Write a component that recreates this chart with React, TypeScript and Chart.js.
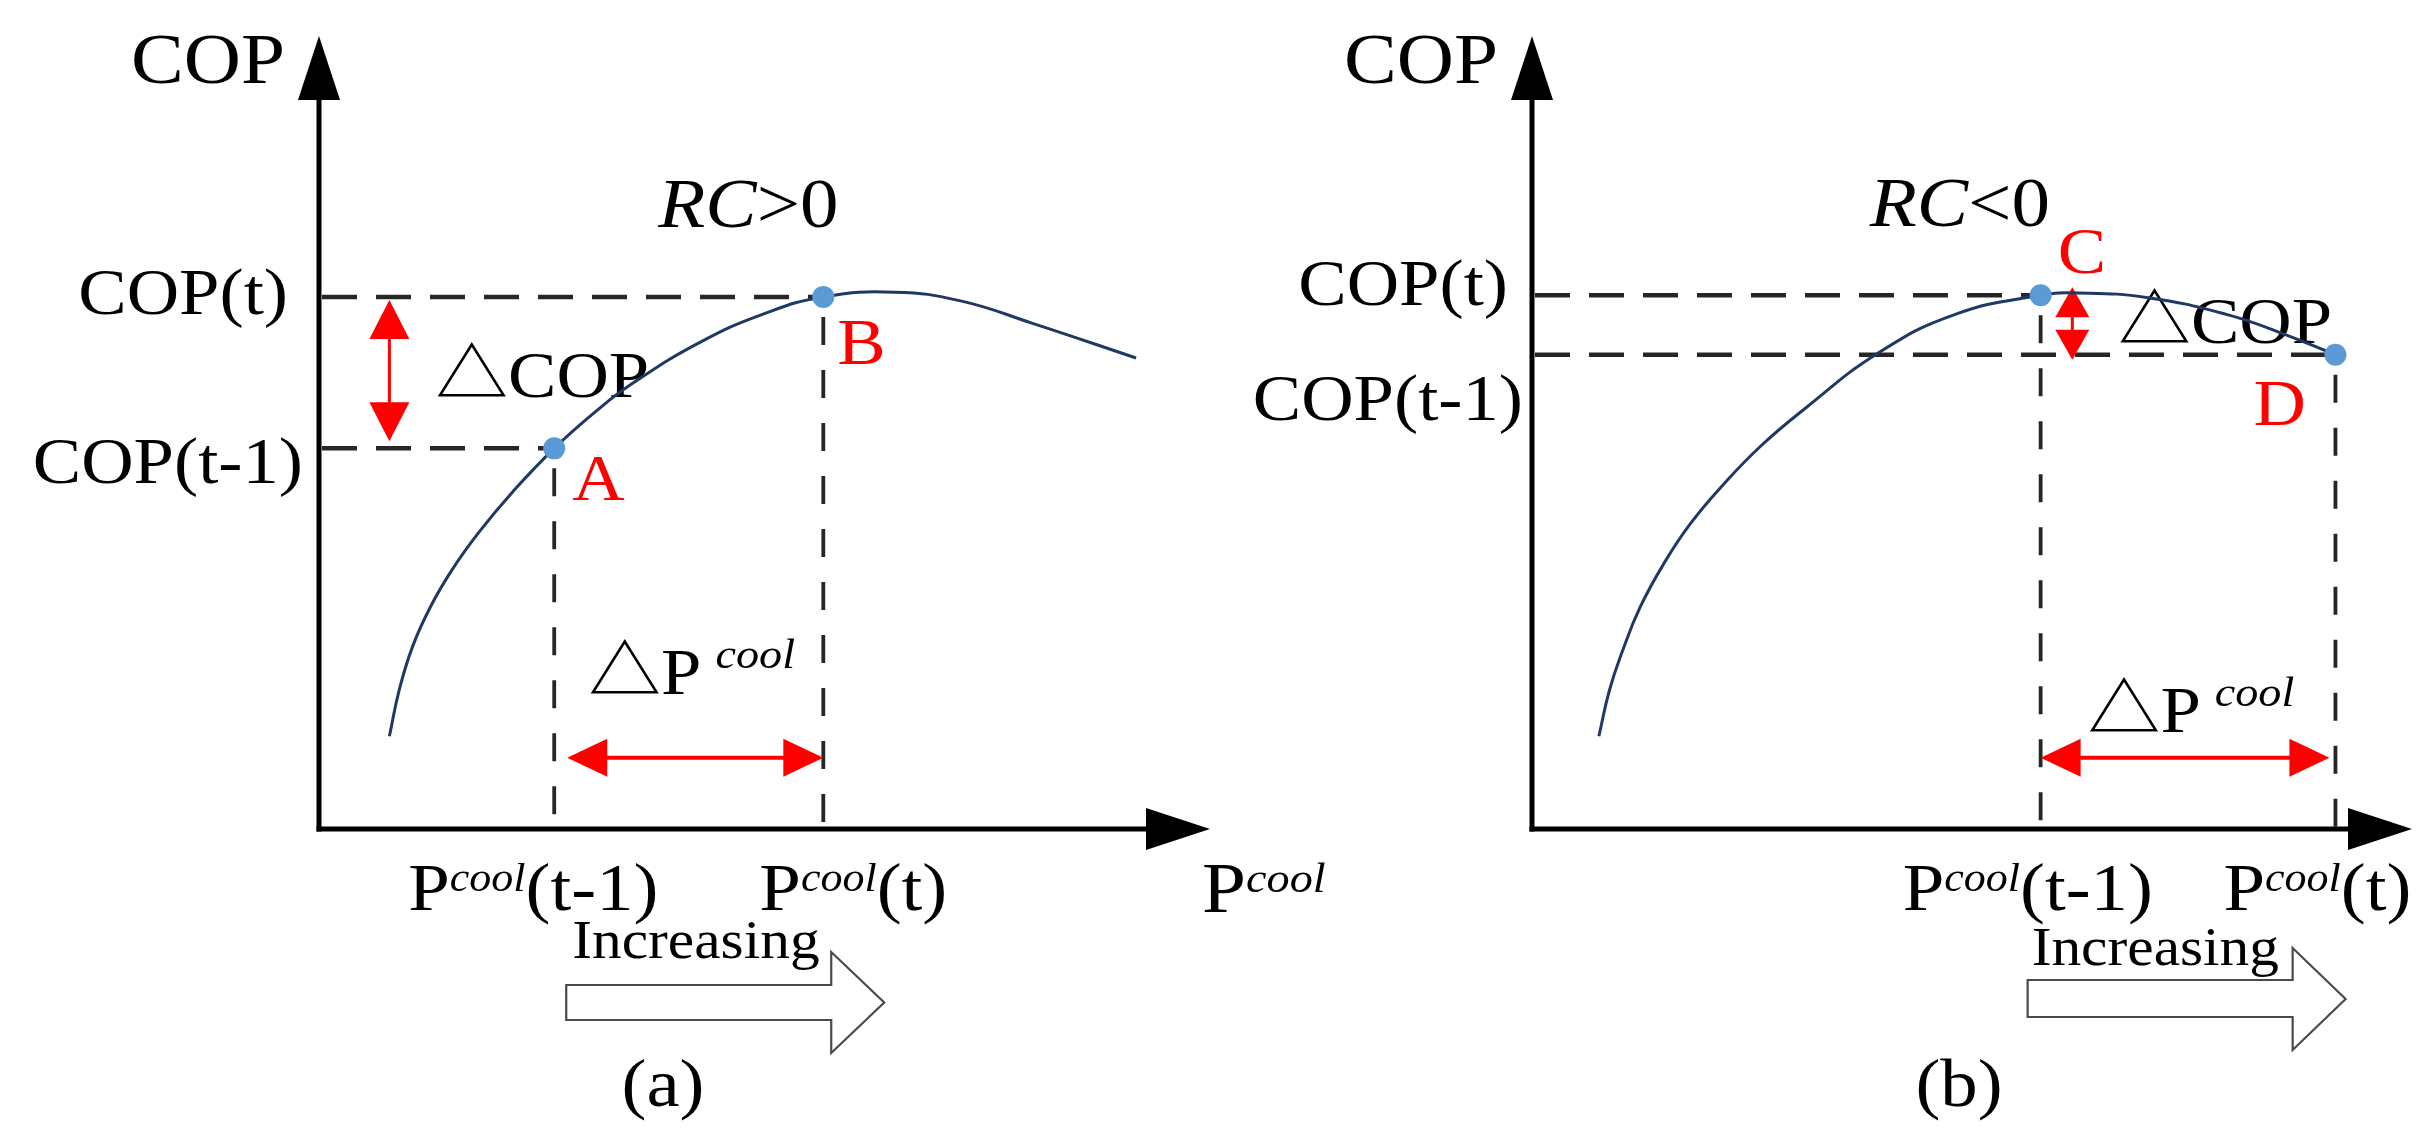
import React, { useEffect, useRef } from "react";
import { Chart, registerables } from "chart.js";

Chart.register(...registerables);

const W = 2434;
const H = 1145;
const FONT = '"Liberation Serif", "Noto Sans CJK SC", serif';
const SX = 1.1; // horizontal text stretch to mimic the wide serif face

// ---------- Panel (a) data ----------
const CURVE_A_P = [7.9, 9.0, 10.5, 12.5, 15.0, 18.0, 21.8, 26.4, 31.0, 35.2, 42.8, 50.0, 56.6, 64.6, 72.0, 80.0, 91.7];
const CURVE_A_COP = [11.7, 17.5, 23.0, 28.0, 32.8, 37.5, 42.6, 48.0, 52.6, 56.2, 61.4, 65.0, 67.1, 67.7, 66.6, 63.8, 59.4];
const POINT_NAMES_A = ["A", "B"];
const POINT_P_A = [26.4, 56.6];
const POINT_COP_A = [48.0, 67.1];
const X_TICKS_A = ["(t-1)", "(t)"];
const Y_TICKS_A = ["COP(t-1)", "COP(t)"];
const RC_A = ">0";
const DCOP_ARROW_P_A = 7.9;

// ---------- Panel (b) data ----------
const CURVE_B_P = [7.6, 8.8, 10.3, 12.3, 15.0, 18.0, 21.8, 26.0, 31.0, 39.3, 48.1, 57.8, 62.0, 70.0, 78.9, 85.0, 91.3];
const CURVE_B_COP = [11.7, 17.5, 22.5, 28.0, 33.5, 38.5, 43.5, 48.3, 53.0, 60.0, 64.9, 67.3, 67.6, 67.0, 64.9, 62.6, 59.8];
const POINT_NAMES_B = ["C", "D"];
const POINT_P_B = [57.8, 91.3];
const POINT_COP_B = [67.3, 59.8];
const X_TICKS_B = ["(t-1)", "(t)"];
const Y_TICKS_B = ["COP(t)", "COP(t-1)"];
const RC_B = "<0";
const DCOP_ARROW_P_B = 61.4;

// shared
const DP_ARROW_COP = 9.0;
const AXIS_TITLE_Y = "COP";
const AXIS_TITLE_X = "P";
const SUP = "cool";
const INCREASING = "Increasing";

type Part = { t: string; size: number; italic?: boolean; dy?: number; gap?: number };

const PANEL_A = {
  curveP: CURVE_A_P, curveCop: CURVE_A_COP, names: POINT_NAMES_A, ptP: POINT_P_A, ptCop: POINT_COP_A,
  xTicks: X_TICKS_A, yTicks: Y_TICKS_A, rc: RC_A, rcPoint: 1, tag: "(a)", xTitle: true,
  dcopArrowP: DCOP_ARROW_P_A, low: 0, high: 1,
  pad: { left: 319, right: W - 1210, top: 36, bottom: H - 829 },
  yTickRight: [-16, -31], yTickDy: [35, 17],
  xTickDx: [-146, -64], xTickBase: 910,
  nameDx: [18, 14], nameDy: [52, 67],
  rcDx: -165, rcDy: -70,
  dcopExt: [3, -7], dcopHead: 39, dcopHalf: 20, dcopLabelDy: -51,
  dpExt: [13, 0], dpLabelDy: -64,
  incDx: 18, incBase: 958,
  hArrowDx: 12, hBody: [985, 1020], hHead: [952, 1053],
  tagX: 663,
};

const PANEL_B = {
  curveP: CURVE_B_P, curveCop: CURVE_B_COP, names: POINT_NAMES_B, ptP: POINT_P_B, ptCop: POINT_COP_B,
  xTicks: X_TICKS_B, yTicks: Y_TICKS_B, rc: RC_B, rcPoint: 0, tag: "(b)", xTitle: false,
  dcopArrowP: DCOP_ARROW_P_B, low: 1, high: 0,
  pad: { left: 1532, right: W - 2412, top: 36, bottom: H - 829 },
  yTickRight: [-24, -9], yTickDy: [10, 65],
  xTickDx: [-138, -112], xTickBase: 910,
  nameDx: [17, -82], nameDy: [-22, 70],
  rcDx: -171, rcDy: -69,
  dcopExt: [-8, 5], dcopHead: 30, dcopHalf: 17, dcopLabelDy: -12,
  dpExt: [0, -6], dpLabelDy: -26,
  incDx: -9, incBase: 965,
  hArrowDx: -13, hBody: [980, 1017], hHead: [948, 1050],
  tagX: 1959,
};

type PanelCfg = typeof PANEL_A;

function fontOf(p: Part) {
  return `${p.italic ? "italic " : ""}${p.size}px ${FONT}`;
}

function drawParts(ctx: CanvasRenderingContext2D, parts: Part[], x: number, y: number, align: "left" | "right" | "center", color: string) {
  const ws = parts.map((p) => {
    ctx.font = fontOf(p);
    return ctx.measureText(p.t).width * SX;
  });
  const total = ws.reduce((a, b) => a + b, 0) + parts.reduce((a, p) => a + (p.gap || 0), 0);
  let cx = align === "left" ? x : align === "right" ? x - total : x - total / 2;
  parts.forEach((p, i) => {
    cx += p.gap || 0;
    ctx.save();
    ctx.font = fontOf(p);
    ctx.fillStyle = color;
    ctx.textAlign = "left";
    ctx.textBaseline = "alphabetic";
    ctx.translate(cx, y + (p.dy || 0));
    ctx.scale(SX, 1);
    ctx.fillText(p.t, 0, 0);
    ctx.restore();
    cx += ws[i];
  });
}

function line(ctx: CanvasRenderingContext2D, x1: number, y1: number, x2: number, y2: number) {
  ctx.beginPath();
  ctx.moveTo(x1, y1);
  ctx.lineTo(x2, y2);
  ctx.stroke();
}

function tri(ctx: CanvasRenderingContext2D, pts: number[][]) {
  ctx.beginPath();
  ctx.moveTo(pts[0][0], pts[0][1]);
  ctx.lineTo(pts[1][0], pts[1][1]);
  ctx.lineTo(pts[2][0], pts[2][1]);
  ctx.closePath();
  ctx.fill();
}

function makeDecor(cfg: PanelCfg) {
  return {
    id: "decor" + cfg.tag,
    beforeDatasetsDraw(chart: any) {
      const ctx: CanvasRenderingContext2D = chart.ctx;
      const xs = chart.scales.x;
      const ys = chart.scales.y;
      const X = (v: number) => xs.getPixelForValue(v);
      const Y = (v: number) => ys.getPixelForValue(v);
      const ox = X(0), oy = Y(0), xt = X(100), yt = Y(100);
      ctx.save();

      // axes
      ctx.strokeStyle = "#000";
      ctx.fillStyle = "#000";
      ctx.lineWidth = 5;
      ctx.lineCap = "butt";
      line(ctx, ox - 2.5, oy, xt - 55, oy);
      line(ctx, ox, oy + 2.5, ox, yt + 55);
      tri(ctx, [[xt, oy], [xt - 64, oy - 21], [xt - 64, oy + 21]]);
      tri(ctx, [[ox, yt], [ox - 21, yt + 64], [ox + 21, yt + 64]]);

      // dashed guide lines
      const px = cfg.ptP.map(X);
      const py = cfg.ptCop.map(Y);
      ctx.strokeStyle = "#262626";
      ctx.lineWidth = 4.5;
      ctx.setLineDash([35, 19]);
      px.forEach((x, i) => line(ctx, ox + 3, py[i], x, py[i]));
      ctx.lineWidth = 3.8;
      ctx.setLineDash([28, 25]);
      px.forEach((x, i) => line(ctx, x, py[i] + 20, x, oy));
      ctx.setLineDash([]);

      // axis titles
      drawParts(ctx, [{ t: AXIS_TITLE_Y, size: 72 }], ox - 34, yt + 47, "right", "#000");
      if (cfg.xTitle) {
        drawParts(ctx, [{ t: AXIS_TITLE_X, size: 72 }, { t: SUP, size: 42, italic: true, dy: -20 }], xt - 8, 912, "left", "#000");
      }

      // y tick labels
      cfg.yTicks.forEach((t, i) => {
        drawParts(ctx, [{ t, size: 66 }], ox + cfg.yTickRight[i], py[i] + cfg.yTickDy[i], "right", "#000");
      });
      // x tick labels
      cfg.xTicks.forEach((t, i) => {
        drawParts(ctx, [{ t: "P", size: 68 }, { t: SUP, size: 40, italic: true, dy: -19 }, { t, size: 68 }],
          px[i] + cfg.xTickDx[i], cfg.xTickBase, "left", "#000");
      });

      // RC label
      const rp = cfg.rcPoint;
      drawParts(ctx, [{ t: "RC", size: 70, italic: true }, { t: cfg.rc, size: 70 }], px[rp] + cfg.rcDx, py[rp] + cfg.rcDy, "left", "#000");

      // point names
      cfg.names.forEach((n, i) => {
        drawParts(ctx, [{ t: n, size: 66 }], px[i] + cfg.nameDx[i], py[i] + cfg.nameDy[i], "left", "#FF0000");
      });

      // delta COP arrow
      ctx.fillStyle = "#FF0000";
      ctx.strokeStyle = "#FF0000";
      const ax = X(cfg.dcopArrowP);
      const yTop = py[cfg.high] + cfg.dcopExt[0];
      const yBot = py[cfg.low] + cfg.dcopExt[1];
      const hh = cfg.dcopHead, hw = cfg.dcopHalf;
      ctx.lineWidth = 3;
      line(ctx, ax, yTop + hh - 2, ax, yBot - hh + 2);
      tri(ctx, [[ax, yTop], [ax - hw, yTop + hh], [ax + hw, yTop + hh]]);
      tri(ctx, [[ax, yBot], [ax - hw, yBot - hh], [ax + hw, yBot - hh]]);
      drawParts(ctx, [{ t: "△COP", size: 66 }], ax + 46, py[cfg.low] + cfg.dcopLabelDy, "left", "#000");

      // delta P arrow
      const ay = Y(DP_ARROW_COP);
      const x1 = px[0] + cfg.dpExt[0];
      const x2 = px[1] + cfg.dpExt[1];
      ctx.fillStyle = "#FF0000";
      ctx.strokeStyle = "#FF0000";
      ctx.lineWidth = 4;
      line(ctx, x1 + 38, ay, x2 - 38, ay);
      tri(ctx, [[x1, ay], [x1 + 40, ay - 19], [x1 + 40, ay + 19]]);
      tri(ctx, [[x2, ay], [x2 - 40, ay - 19], [x2 - 40, ay + 19]]);
      drawParts(ctx, [{ t: "△P", size: 66 }, { t: SUP, size: 42, italic: true, dy: -26, gap: 14 }],
        (px[0] + px[1]) / 2 + 3, ay + cfg.dpLabelDy, "center", "#000");

      // "Increasing" + hollow arrow
      drawParts(ctx, [{ t: INCREASING, size: 54 }], px[0] + cfg.incDx, cfg.incBase, "left", "#000");
      const hx = px[0] + cfg.hArrowDx;
      const bx2 = hx + 265;
      const tip = bx2 + 53;
      const [bt, bb] = cfg.hBody;
      const [ht, hb] = cfg.hHead;
      ctx.beginPath();
      ctx.moveTo(hx, bt);
      ctx.lineTo(bx2, bt);
      ctx.lineTo(bx2, ht);
      ctx.lineTo(tip, (ht + hb) / 2);
      ctx.lineTo(bx2, hb);
      ctx.lineTo(bx2, bb);
      ctx.lineTo(hx, bb);
      ctx.closePath();
      ctx.fillStyle = "#fff";
      ctx.fill();
      ctx.strokeStyle = "#4a4a4a";
      ctx.lineWidth = 2.2;
      ctx.stroke();

      // panel tag
      drawParts(ctx, [{ t: cfg.tag, size: 68 }], cfg.tagX, 1106, "center", "#000");

      ctx.restore();
    },
  };
}

function makeChart(canvas: HTMLCanvasElement, cfg: PanelCfg) {
  const curve = cfg.curveP.map((p, i) => ({ x: p, y: cfg.curveCop[i] }));
  const pts = cfg.ptP.map((p, i) => ({ x: p, y: cfg.ptCop[i] }));
  return new Chart(canvas, {
    type: "line",
    data: {
      datasets: [
        {
          data: pts,
          showLine: false,
          pointRadius: 11,
          pointBackgroundColor: "#5B9BD5",
          pointBorderColor: "#5B9BD5",
          pointBorderWidth: 0,
          order: 0,
          clip: false,
        } as any,
        {
          data: curve,
          borderColor: "#1F3864",
          borderWidth: 3,
          pointRadius: 0,
          tension: 0.45,
          cubicInterpolationMode: "default",
          fill: false,
          order: 1,
          clip: false,
        } as any,
      ],
    },
    options: {
      animation: false,
      responsive: false,
      devicePixelRatio: 1,
      events: [],
      layout: { padding: cfg.pad },
      scales: {
        x: { type: "linear", min: 0, max: 100, display: false },
        y: { type: "linear", min: 0, max: 100, display: false },
      },
      plugins: { legend: { display: false }, tooltip: { enabled: false } },
    },
    plugins: [makeDecor(cfg)],
  });
}

export default function App() {
  const refA = useRef<HTMLCanvasElement>(null);
  const refB = useRef<HTMLCanvasElement>(null);
  useEffect(() => {
    const ca = makeChart(refA.current!, PANEL_A);
    const cb = makeChart(refB.current!, PANEL_B);
    return () => {
      ca.destroy();
      cb.destroy();
    };
  }, []);
  const layer: React.CSSProperties = { position: "absolute", left: 0, top: 0, width: W, height: H };
  return (
    <div style={{ ...layer, background: "#fff", overflow: "hidden" }}>
      <canvas ref={refA} width={W} height={H} style={{ ...layer }} />
      <canvas ref={refB} width={W} height={H} style={{ ...layer }} />
    </div>
  );
}
